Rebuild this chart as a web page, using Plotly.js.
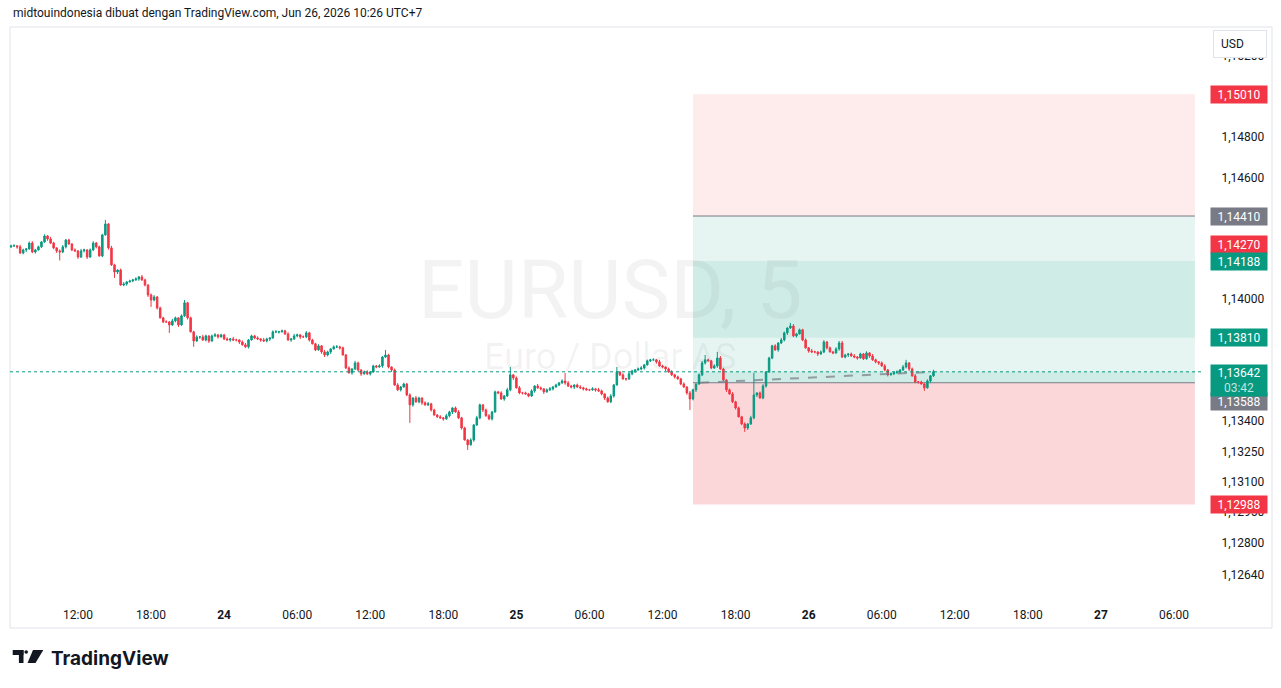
<!DOCTYPE html>
<html>
<head>
<meta charset="utf-8">
<script src="https://cdn.plot.ly/plotly-3.0.1.min.js"></script>
<style>
html,body{margin:0;padding:0;background:#ffffff;}
#chart{width:1281px;height:688px;}
</style>
</head>
<body>
<div id="chart"></div>
<script>
// ---- EURUSD candles (15-minute bars), start 2026-06-23 06:30 UTC+7 ----
const barStart = '2026-06-23T06:30:00Z';
const barMinutes = 15;

const openP = [
1.14258,1.14263,1.14263,1.14258,1.14228,1.14243,1.14248,1.14277,1.14233,1.14243,
1.14258,1.14282,1.14312,1.14297,1.14277,1.14253,1.14238,1.14233,1.14258,1.14292,
1.14272,1.14243,1.14238,1.14208,1.14238,1.14243,1.14208,1.14243,1.14277,1.14258,
1.14213,1.14317,1.14371,1.14253,1.14169,1.14134,1.14144,1.14070,1.14075,1.14085,
1.14090,1.14095,1.14100,1.14110,1.14095,1.14070,1.14021,1.13996,1.14011,1.13957,
1.13908,1.13888,1.13888,1.13873,1.13893,1.13908,1.13873,1.13918,1.13982,1.13908,
1.13839,1.13794,1.13814,1.13814,1.13799,1.13819,1.13794,1.13819,1.13824,1.13814,
1.13824,1.13804,1.13799,1.13804,1.13799,1.13799,1.13789,1.13775,1.13765,1.13799,
1.13819,1.13809,1.13804,1.13799,1.13794,1.13804,1.13809,1.13839,1.13839,1.13839,
1.13844,1.13829,1.13799,1.13804,1.13819,1.13824,1.13814,1.13814,1.13834,1.13799,
1.13780,1.13750,1.13770,1.13740,1.13725,1.13740,1.13755,1.13765,1.13765,1.13760,
1.13725,1.13661,1.13637,1.13656,1.13686,1.13651,1.13632,1.13641,1.13632,1.13641,
1.13671,1.13666,1.13671,1.13715,1.13725,1.13666,1.13651,1.13577,1.13553,1.13567,
1.13582,1.13528,1.13479,1.13513,1.13494,1.13513,1.13489,1.13479,1.13484,1.13454,
1.13429,1.13420,1.13415,1.13410,1.13425,1.13444,1.13464,1.13444,1.13415,1.13365,
1.13306,1.13282,1.13306,1.13380,1.13415,1.13479,1.13454,1.13425,1.13410,1.13444,
1.13543,1.13538,1.13508,1.13523,1.13553,1.13627,1.13612,1.13563,1.13538,1.13538,
1.13533,1.13523,1.13548,1.13572,1.13563,1.13558,1.13543,1.13553,1.13558,1.13567,
1.13577,1.13587,1.13597,1.13587,1.13572,1.13567,1.13577,1.13567,1.13563,1.13558,
1.13553,1.13553,1.13558,1.13553,1.13548,1.13533,1.13513,1.13494,1.13523,1.13577,
1.13641,1.13627,1.13607,1.13607,1.13632,1.13646,1.13651,1.13656,1.13661,1.13676,
1.13696,1.13701,1.13701,1.13691,1.13671,1.13666,1.13656,1.13641,1.13627,1.13617,
1.13607,1.13582,1.13567,1.13538,1.13508,1.13553,1.13582,1.13627,1.13686,1.13701,
1.13696,1.13661,1.13671,1.13710,1.13656,1.13602,1.13553,1.13533,1.13494,1.13464,
1.13420,1.13385,1.13365,1.13385,1.13415,1.13528,1.13538,1.13513,1.13572,1.13641,
1.13710,1.13770,1.13750,1.13784,1.13799,1.13834,1.13858,1.13868,1.13819,1.13829,
1.13849,1.13799,1.13760,1.13745,1.13740,1.13740,1.13730,1.13740,1.13789,1.13760,
1.13740,1.13735,1.13755,1.13784,1.13715,1.13725,1.13730,1.13720,1.13715,1.13710,
1.13730,1.13706,1.13735,1.13720,1.13701,1.13691,1.13686,1.13671,1.13651,1.13627,
1.13632,1.13637,1.13641,1.13651,1.13666,1.13686,1.13656,1.13622,1.13592,1.13592,
1.13582,1.13563,1.13597,1.13622];

const highP = [
1.14268,1.14271,1.14267,1.14268,1.14249,1.14251,1.14284,1.14286,1.14248,1.14264,
1.14287,1.14320,1.14316,1.14307,1.14283,1.14256,1.14245,1.14267,1.14297,1.14298,
1.14277,1.14251,1.14242,1.14248,1.14249,1.14246,1.14250,1.14286,1.14282,1.14264,
1.14322,1.14391,1.14375,1.14263,1.14175,1.14147,1.14151,1.14084,1.14090,1.14096,
1.14100,1.14108,1.14114,1.14120,1.14101,1.14073,1.14028,1.14020,1.14016,1.13963,
1.13913,1.13896,1.13892,1.13903,1.13914,1.13911,1.13925,1.13996,1.13987,1.13914,
1.13844,1.13822,1.13818,1.13824,1.13825,1.13822,1.13826,1.13833,1.13829,1.13830,
1.13829,1.13812,1.13808,1.13814,1.13805,1.13802,1.13796,1.13784,1.13804,1.13825,
1.13824,1.13817,1.13808,1.13809,1.13810,1.13812,1.13846,1.13848,1.13844,1.13850,
1.13849,1.13837,1.13808,1.13829,1.13830,1.13827,1.13821,1.13843,1.13839,1.13805,
1.13785,1.13778,1.13774,1.13750,1.13746,1.13758,1.13772,1.13774,1.13770,1.13766,
1.13730,1.13669,1.13660,1.13696,1.13692,1.13654,1.13648,1.13650,1.13646,1.13677,
1.13676,1.13679,1.13719,1.13750,1.13731,1.13669,1.13658,1.13586,1.13572,1.13588,
1.13587,1.13536,1.13517,1.13523,1.13519,1.13516,1.13496,1.13493,1.13489,1.13460,
1.13434,1.13428,1.13419,1.13435,1.13450,1.13467,1.13471,1.13453,1.13420,1.13371,
1.13311,1.13314,1.13384,1.13425,1.13485,1.13482,1.13461,1.13434,1.13449,1.13549,
1.13548,1.13546,1.13527,1.13563,1.13666,1.13630,1.13619,1.13572,1.13543,1.13544,
1.13538,1.13556,1.13576,1.13582,1.13569,1.13561,1.13560,1.13567,1.13572,1.13583,
1.13592,1.13605,1.13637,1.13597,1.13578,1.13580,1.13584,1.13576,1.13568,1.13564,
1.13558,1.13566,1.13562,1.13563,1.13554,1.13536,1.13520,1.13532,1.13582,1.13666,
1.13646,1.13635,1.13611,1.13642,1.13652,1.13654,1.13663,1.13670,1.13681,1.13702,
1.13706,1.13709,1.13705,1.13701,1.13677,1.13669,1.13663,1.13650,1.13632,1.13623,
1.13612,1.13590,1.13571,1.13548,1.13559,1.13585,1.13634,1.13695,1.13725,1.13707,
1.13701,1.13679,1.13740,1.13720,1.13662,1.13605,1.13560,1.13542,1.13499,1.13470,
1.13425,1.13393,1.13389,1.13425,1.13637,1.13541,1.13545,1.13581,1.13646,1.13716,
1.13775,1.13778,1.13788,1.13809,1.13840,1.13861,1.13883,1.13877,1.13834,1.13855,
1.13854,1.13807,1.13764,1.13755,1.13746,1.13743,1.13747,1.13798,1.13794,1.13766,
1.13745,1.13763,1.13794,1.13794,1.13731,1.13733,1.13737,1.13729,1.13720,1.13736,
1.13735,1.13743,1.13739,1.13730,1.13707,1.13694,1.13693,1.13680,1.13656,1.13638,
1.13642,1.13649,1.13655,1.13676,1.13701,1.13689,1.13663,1.13631,1.13597,1.13598,
1.13587,1.13605,1.13626,1.13652];

const lowP = [
1.14252,1.14259,1.14249,1.14223,1.14221,1.14233,1.14244,1.14227,1.14225,1.14240,
1.14252,1.14278,1.14288,1.14272,1.14246,1.14228,1.14191,1.14227,1.14250,1.14269,
1.14237,1.14234,1.14199,1.14203,1.14231,1.14198,1.14204,1.14237,1.14250,1.14210,
1.14207,1.14313,1.14244,1.14164,1.14105,1.14124,1.14066,1.14064,1.14067,1.14082,
1.14084,1.14091,1.14091,1.14090,1.14063,1.14011,1.13962,1.13990,1.13949,1.13905,
1.13882,1.13884,1.13834,1.13868,1.13886,1.13863,1.13869,1.13912,1.13900,1.13836,
1.13765,1.13790,1.13805,1.13794,1.13792,1.13784,1.13790,1.13813,1.13806,1.13811,
1.13798,1.13795,1.13790,1.13794,1.13792,1.13779,1.13771,1.13759,1.13757,1.13796,
1.13803,1.13800,1.13790,1.13789,1.13787,1.13794,1.13805,1.13833,1.13831,1.13836,
1.13823,1.13795,1.13790,1.13799,1.13812,1.13804,1.13810,1.13808,1.13791,1.13777,
1.13744,1.13746,1.13731,1.13715,1.13718,1.13730,1.13751,1.13759,1.13752,1.13722,
1.13655,1.13633,1.13628,1.13651,1.13644,1.13622,1.13628,1.13626,1.13624,1.13638,
1.13660,1.13662,1.13662,1.13710,1.13659,1.13641,1.13573,1.13547,1.13545,1.13564,
1.13522,1.13390,1.13470,1.13489,1.13487,1.13479,1.13475,1.13473,1.13446,1.13426,
1.13414,1.13411,1.13401,1.13405,1.13418,1.13434,1.13440,1.13409,1.13357,1.13303,
1.13257,1.13278,1.13297,1.13375,1.13408,1.13444,1.13421,1.13404,1.13402,1.13441,
1.13532,1.13504,1.13499,1.13518,1.13546,1.13602,1.13559,1.13532,1.13530,1.13530,
1.13517,1.13519,1.13539,1.13558,1.13551,1.13533,1.13539,1.13547,1.13550,1.13564,
1.13571,1.13583,1.13578,1.13567,1.13560,1.13557,1.13563,1.13557,1.13550,1.13550,
1.13547,1.13549,1.13544,1.13543,1.13526,1.13503,1.13490,1.13488,1.13515,1.13574,
1.13621,1.13603,1.13598,1.13602,1.13625,1.13636,1.13647,1.13650,1.13653,1.13673,
1.13690,1.13697,1.13682,1.13666,1.13659,1.13646,1.13637,1.13621,1.13609,1.13604,
1.13576,1.13563,1.13529,1.13454,1.13501,1.13543,1.13578,1.13621,1.13678,1.13693,
1.13655,1.13657,1.13662,1.13651,1.13595,1.13543,1.13529,1.13488,1.13456,1.13417,
1.13379,1.13346,1.13356,1.13380,1.13408,1.13518,1.13509,1.13507,1.13564,1.13638,
1.13704,1.13746,1.13741,1.13779,1.13792,1.13824,1.13854,1.13813,1.13811,1.13826,
1.13793,1.13756,1.13736,1.13735,1.13733,1.13720,1.13726,1.13734,1.13752,1.13737,
1.13729,1.13731,1.13746,1.13710,1.13708,1.13715,1.13716,1.13709,1.13702,1.13707,
1.13700,1.13702,1.13711,1.13696,1.13684,1.13676,1.13667,1.13645,1.13619,1.13624,
1.13626,1.13633,1.13632,1.13646,1.13659,1.13646,1.13618,1.13586,1.13584,1.13579,
1.13548,1.13559,1.13588,1.13617];

const closeP = [
1.14263,1.14263,1.14258,1.14228,1.14243,1.14248,1.14277,1.14233,1.14243,1.14258,
1.14282,1.14312,1.14297,1.14277,1.14253,1.14238,1.14233,1.14258,1.14292,1.14272,
1.14243,1.14238,1.14208,1.14238,1.14243,1.14208,1.14243,1.14277,1.14258,1.14213,
1.14317,1.14371,1.14253,1.14169,1.14134,1.14144,1.14070,1.14075,1.14085,1.14090,
1.14095,1.14100,1.14110,1.14095,1.14070,1.14021,1.13996,1.14011,1.13957,1.13908,
1.13888,1.13888,1.13873,1.13893,1.13908,1.13873,1.13918,1.13982,1.13908,1.13839,
1.13794,1.13814,1.13814,1.13799,1.13819,1.13794,1.13819,1.13824,1.13814,1.13824,
1.13804,1.13799,1.13804,1.13799,1.13799,1.13789,1.13775,1.13765,1.13799,1.13819,
1.13809,1.13804,1.13799,1.13794,1.13804,1.13809,1.13839,1.13839,1.13839,1.13844,
1.13829,1.13799,1.13804,1.13819,1.13824,1.13814,1.13814,1.13834,1.13799,1.13780,
1.13750,1.13770,1.13740,1.13725,1.13740,1.13755,1.13765,1.13765,1.13760,1.13725,
1.13661,1.13637,1.13656,1.13686,1.13651,1.13632,1.13641,1.13632,1.13641,1.13671,
1.13666,1.13671,1.13715,1.13725,1.13666,1.13651,1.13577,1.13553,1.13567,1.13582,
1.13528,1.13479,1.13513,1.13494,1.13513,1.13489,1.13479,1.13484,1.13454,1.13429,
1.13420,1.13415,1.13410,1.13425,1.13444,1.13464,1.13444,1.13415,1.13365,1.13306,
1.13282,1.13306,1.13380,1.13415,1.13479,1.13454,1.13425,1.13410,1.13444,1.13543,
1.13538,1.13508,1.13523,1.13553,1.13627,1.13612,1.13563,1.13538,1.13538,1.13533,
1.13523,1.13548,1.13572,1.13563,1.13558,1.13543,1.13553,1.13558,1.13567,1.13577,
1.13587,1.13597,1.13587,1.13572,1.13567,1.13577,1.13567,1.13563,1.13558,1.13553,
1.13553,1.13558,1.13553,1.13548,1.13533,1.13513,1.13494,1.13523,1.13577,1.13641,
1.13627,1.13607,1.13607,1.13632,1.13646,1.13651,1.13656,1.13661,1.13676,1.13696,
1.13701,1.13701,1.13691,1.13671,1.13666,1.13656,1.13641,1.13627,1.13617,1.13607,
1.13582,1.13567,1.13538,1.13508,1.13553,1.13582,1.13627,1.13686,1.13701,1.13696,
1.13661,1.13671,1.13710,1.13656,1.13602,1.13553,1.13533,1.13494,1.13464,1.13420,
1.13385,1.13365,1.13385,1.13415,1.13528,1.13538,1.13513,1.13572,1.13641,1.13710,
1.13770,1.13750,1.13784,1.13799,1.13834,1.13858,1.13868,1.13819,1.13829,1.13849,
1.13799,1.13760,1.13745,1.13740,1.13740,1.13730,1.13740,1.13789,1.13760,1.13740,
1.13735,1.13755,1.13784,1.13715,1.13725,1.13730,1.13720,1.13715,1.13710,1.13730,
1.13706,1.13735,1.13720,1.13701,1.13691,1.13686,1.13671,1.13651,1.13627,1.13632,
1.13637,1.13641,1.13651,1.13666,1.13686,1.13656,1.13622,1.13592,1.13592,1.13582,
1.13563,1.13597,1.13622,1.13642];

// ---- axis ticks ----
const xTickTimes = ['2026-06-23 12:00','2026-06-23 18:00','2026-06-24 00:00','2026-06-24 06:00',
  '2026-06-24 12:00','2026-06-24 18:00','2026-06-25 00:00','2026-06-25 06:00','2026-06-25 12:00',
  '2026-06-25 18:00','2026-06-26 00:00','2026-06-26 06:00','2026-06-26 12:00','2026-06-26 18:00',
  '2026-06-27 00:00','2026-06-27 06:00'];
const xTickLabels = ['12:00','18:00','<b>24</b>','06:00','12:00','18:00','<b>25</b>','06:00','12:00',
  '18:00','<b>26</b>','06:00','12:00','18:00','<b>27</b>','06:00'];
const yTickVals = [1.152,1.148,1.146,1.140,1.134,1.1325,1.131,1.1295,1.128,1.1264];
const yTickLabels = ['1,15200','1,14800','1,14600','1,14000','1,13400','1,13250','1,13100','1,12950','1,12800','1,12640'];

// ---- position tool levels ----
const toolStart = '2026-06-25 14:30';
const toolEnd = '2026-06-27 07:43';
const upperStop = 1.15010;
const target = 1.14410;
const innerTop = 1.14188;
const innerBottom = 1.13810;
const entry = 1.13588;
const stopLoss = 1.12988;
const lastPrice = 1.13642;
const entryTime = '2026-06-25 15:05';
const lastTime = '2026-06-26 10:20';

// ---- price scale labels ----
const markVals = [1.15010, 1.14410, 1.14270, 1.14188, 1.13810, 1.12988];
const markText = ['1,15010','1,14410','1,14270','1,14188','1,13810','1,12988'];
const markColor = ['#F23645','#787B86','#F23645','#089981','#089981','#F23645'];

// build bar times
const times = [];
const t0 = Date.parse(barStart);
for (let i = 0; i < closeP.length; i++) {
  const d = new Date(t0 + i * barMinutes * 60000).toISOString();
  times.push(d.slice(0,10) + ' ' + d.slice(11,16));
}

const GREEN = '#089981', RED = '#F23645';
const FONT = 'Roboto, "Noto Sans", sans-serif';

const candle = {
  type: 'candlestick',
  x: times, open: openP, high: highP, low: lowP, close: closeP,
  increasing: {line: {color: GREEN, width: 1}, fillcolor: GREEN},
  decreasing: {line: {color: RED, width: 1}, fillcolor: RED},
  whiskerwidth: 0,
  hoverinfo: 'skip',
  showlegend: false
};

// paper helpers (plot area: x 10..1202, y 28..600)
const PX = px => (px - 10) / 1192;
const PY = py => (600 - py) / 572;

const shapes = [
  // outer frame
  {type:'rect', xref:'paper', yref:'paper', x0:PX(10), x1:PX(1272), y0:PY(628), y1:PY(27),
   line:{color:'#E0E3EB', width:1}, fillcolor:'rgba(0,0,0,0)', layer:'below'},
  // position tool zones
  {type:'rect', xref:'x', yref:'y', x0:toolStart, x1:toolEnd, y0:target, y1:upperStop,
   line:{width:0}, fillcolor:'rgba(242,54,69,0.1)', layer:'below'},
  {type:'rect', xref:'x', yref:'y', x0:toolStart, x1:toolEnd, y0:entry, y1:target,
   line:{width:0}, fillcolor:'rgba(8,153,129,0.1)', layer:'below'},
  {type:'rect', xref:'x', yref:'y', x0:toolStart, x1:toolEnd, y0:innerBottom, y1:innerTop,
   line:{width:0}, fillcolor:'rgba(8,153,129,0.1)', layer:'below'},
  {type:'rect', xref:'x', yref:'y', x0:toolStart, x1:toolEnd, y0:entry, y1:lastPrice,
   line:{width:0}, fillcolor:'rgba(8,153,129,0.1)', layer:'below'},
  {type:'rect', xref:'x', yref:'y', x0:toolStart, x1:toolEnd, y0:stopLoss, y1:entry,
   line:{width:0}, fillcolor:'rgba(242,54,69,0.2)', layer:'below'},
  {type:'line', xref:'x', yref:'y', x0:toolStart, x1:toolEnd, y0:target, y1:target,
   line:{color:'#787B86', width:1}, layer:'below'},
  {type:'line', xref:'x', yref:'y', x0:toolStart, x1:toolEnd, y0:entry, y1:entry,
   line:{color:'#787B86', width:1}, layer:'below'},
  // entry -> current dashed
  {type:'line', xref:'x', yref:'y', x0:entryTime, x1:lastTime, y0:entry, y1:lastPrice,
   line:{color:'rgba(120,123,134,0.7)', width:2, dash:'dash'}, layer:'above'},
  // last price dotted line
  {type:'line', xref:'paper', yref:'y', x0:0, x1:1, y0:lastPrice, y1:lastPrice,
   line:{color:GREEN, width:1, dash:'dot'}, layer:'above'},
  // TradingView logo
  {type:'rect', xref:'paper', yref:'paper', x0:PX(12.7), x1:PX(23.5), y0:PY(655), y1:PY(650),
   line:{width:0}, fillcolor:'#131722'},
  {type:'rect', xref:'paper', yref:'paper', x0:PX(18.9), x1:PX(23.5), y0:PY(663), y1:PY(650),
   line:{width:0}, fillcolor:'#131722'},
  {type:'circle', xref:'paper', yref:'paper', x0:PX(24.4), x1:PX(28.0), y0:PY(653.8), y1:PY(650.2),
   line:{width:0}, fillcolor:'#131722'},
  {type:'path', xref:'paper', yref:'paper',
   path:'M '+PX(33)+','+PY(650)+' L '+PX(43.3)+','+PY(650)+' L '+PX(35.5)+','+PY(663)+' L '+PX(27.5)+','+PY(663)+' Z',
   line:{width:0}, fillcolor:'#131722'}
];

const annotations = [
  // watermark
  {xref:'paper', yref:'paper', x:PX(610), y:PY(290), text:'EURUSD, 5', showarrow:false,
   font:{family:FONT, size:82, color:'rgba(120,123,134,0.09)'}, xanchor:'center', yanchor:'middle'},
  {xref:'paper', yref:'paper', x:PX(610), y:PY(357), text:'Euro / Dollar AS', showarrow:false,
   font:{family:FONT, size:36, color:'rgba(120,123,134,0.09)'}, xanchor:'center', yanchor:'middle'},
  // header
  {xref:'paper', yref:'paper', x:PX(11), y:PY(13), text:'midtouindonesia dibuat dengan TradingView.com, Jun 26, 2026 10:26 UTC+7',
   showarrow:false, xanchor:'left', yanchor:'middle', font:{family:FONT, size:12, color:'#131722'}},
  // logo text
  {xref:'paper', yref:'paper', x:PX(49), y:PY(658), text:'<b>TradingView</b>',
   showarrow:false, xanchor:'left', yanchor:'middle', font:{family:'Inter, Roboto, sans-serif', size:19, color:'#131722'}},
  // USD button
  {xref:'paper', yref:'paper', x:PX(1213), y:PY(44), text:'&nbsp;USD', showarrow:false,
   xanchor:'left', yanchor:'middle', align:'left', width:44, height:18, borderpad:4,
   bgcolor:'#ffffff', bordercolor:'#E0E3EB', borderwidth:1,
   font:{family:FONT, size:12, color:'#131722'}},
  // entry price box (shifted down)
  {xref:'paper', yref:'y', x:1, y:entry, yshift:-19, xshift:8, text:'1,13588', showarrow:false,
   xanchor:'left', yanchor:'middle', width:52, height:13, borderpad:2, bgcolor:'#787B86',
   font:{family:FONT, size:12, color:'#ffffff'}},
  // last price box with countdown
  {xref:'paper', yref:'y', x:1, y:lastPrice, yshift:8, xshift:8,
   text:'1,13642<br><span style="color:rgba(255,255,255,0.75)">03:42</span>', showarrow:false,
   xanchor:'left', yanchor:'top', width:52, height:27, borderpad:2, bgcolor:GREEN,
   font:{family:FONT, size:12, color:'#ffffff'}}
];
for (let k = 0; k < markVals.length; k++) {
  annotations.push({xref:'paper', yref:'y', x:1, y:markVals[k], xshift:8, text:markText[k],
    showarrow:false, xanchor:'left', yanchor:'middle', width:52, height:13, borderpad:2,
    bgcolor:markColor[k], font:{family:FONT, size:12, color:'#ffffff'}});
}

const layout = {
  width:1281, height:688,
  margin:{l:10, r:79, t:28, b:88, pad:0},
  paper_bgcolor:'#ffffff', plot_bgcolor:'#ffffff',
  showlegend:false,
  xaxis:{type:'date', range:['2026-06-23 06:25','2026-06-27 08:18'],
    tickmode:'array', tickvals:xTickTimes, ticktext:xTickLabels,
    showgrid:false, zeroline:false, showline:false,
    ticks:'outside', ticklen:4, tickcolor:'rgba(0,0,0,0)',
    tickfont:{family:FONT, size:12, color:'#131722'},
    rangeslider:{visible:false}, fixedrange:true},
  yaxis:{side:'right', range:[1.12517, 1.15337],
    tickmode:'array', tickvals:yTickVals, ticktext:yTickLabels,
    showgrid:false, zeroline:false, showline:false,
    ticks:'outside', ticklen:16, tickcolor:'rgba(0,0,0,0)',
    tickfont:{family:FONT, size:12, color:'#131722'}, fixedrange:true},
  shapes:shapes,
  annotations:annotations
};

Plotly.newPlot('chart', [candle], layout, {staticPlot:true, displayModeBar:false});
</script>
</body>
</html>
